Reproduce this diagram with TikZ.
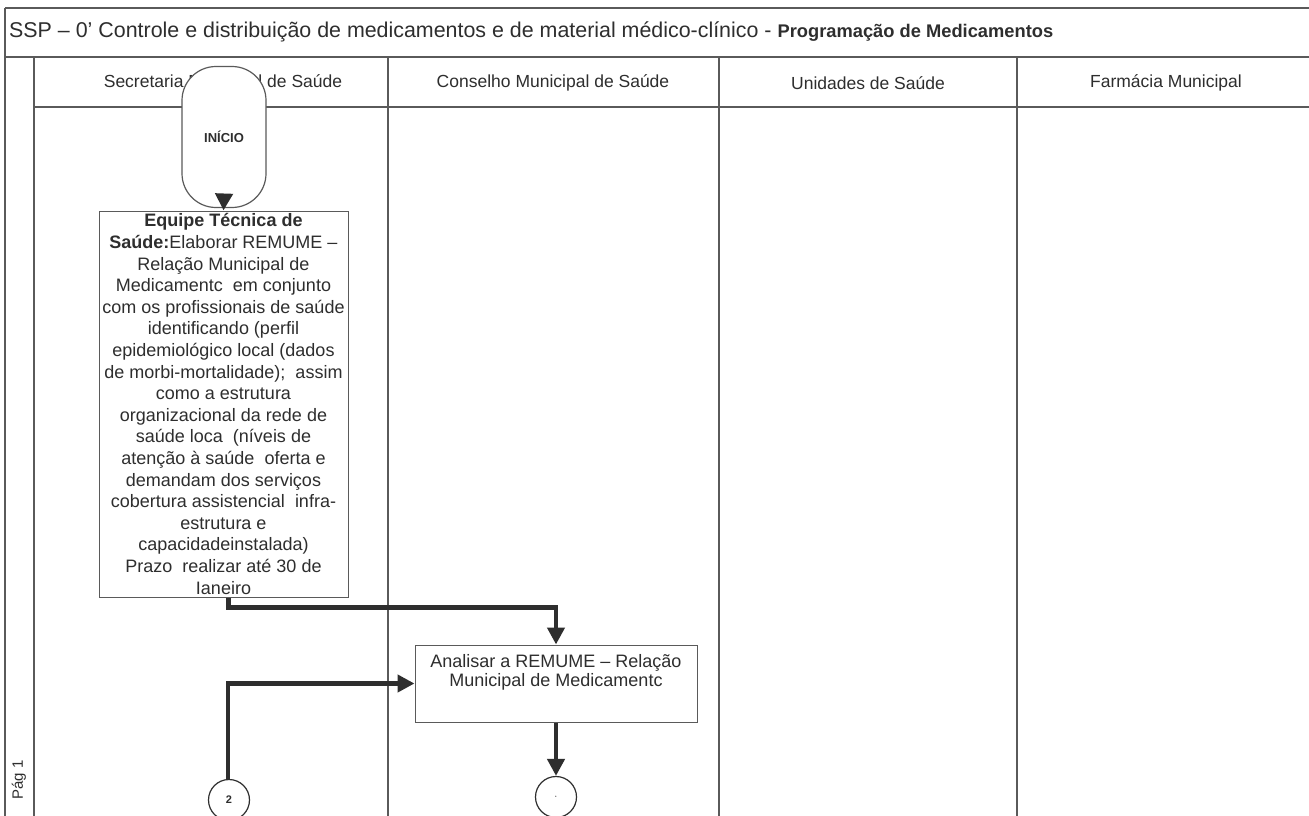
\documentclass[tikz,border=0pt]{standalone}
\usepackage{fontspec}
\setmainfont{Liberation Sans}
\usetikzlibrary{arrows.meta,calc}
\definecolor{ink}{HTML}{2E2E2E}
\definecolor{rule}{HTML}{5A5A5A}
\begin{document}
\begin{tikzpicture}[x=1pt,y=-1pt,
  frame/.style={draw=rule,line width=1.3pt},
  hdr/.style={font=\fontsize{17.5}{20}\selectfont,text=ink,inner sep=0},
  procbox/.style={draw=rule,line width=1pt,fill=white,text=ink,align=center,inner sep=0pt,font=\fontsize{18}{21.6}\selectfont},
  conn/.style={draw=ink,line width=4.5pt,-{Triangle[length=17pt,width=17pt]}},
  endcircle/.style={circle,draw=ink,line width=1.2pt,minimum size=41pt,inner sep=0,fill=white,text=ink,font=\fontsize{11}{13}\selectfont\bfseries}
]
\useasboundingbox (0,0) rectangle (1309,816);
\fill[white] (0,0) rectangle (1309,816);
% frame
\draw[frame,line width=2pt] (5,8) -- (5,816);
\draw[frame] (5,8) -- (1309,8);
\draw[frame] (5,57) -- (1309,57);
\draw[frame] (34,107) -- (1309,107);
\draw[frame,line width=1.8pt] (34,57) -- (34,816);
\draw[frame] (388,57) -- (388,816);
\draw[frame] (719,57) -- (719,816);
\draw[frame] (1017,57) -- (1017,816);
% title
\node[anchor=west,inner sep=0,text=ink] (title) at (9,32) {\fontsize{21.4}{24}\selectfont SSP – 0'\hspace{6pt}Controle e distribuição de medicamentos e de material médico-clínico - \fontsize{18.3}{20}\selectfont\bfseries Programação de Medicamentos};
% headers
\node[hdr] (hsec) at (223,83) {Secretaria Municipal de Saúde};
\node[hdr] (hcon) at (553,83) {Conselho Municipal de Saúde};
\node[hdr] (huni) at (868,83) {Unidades de Saúde};
\node[hdr] (hfar) at (1166,83) {Farmácia Municipal};
\node[rotate=90,font=\fontsize{15}{17}\selectfont,text=ink,inner sep=0] (pag) at (19,780) {Pág 1};
% start
\node[draw=rule,line width=1.2pt,fill=white,rounded corners=34pt,minimum width=84pt,minimum height=141pt,font=\fontsize{13}{15}\selectfont\bfseries,text=ink] (inicio) at (224,137) {INÍCIO};
% box 1
\node[procbox,minimum width=249pt,minimum height=386pt] (b1) at (223.5,404) {\textbf{Equipe Técnica de}\\
\textbf{Saúde:}Elaborar REMUME –\\
Relação Municipal de\\
Medicamentc\ \ em conjunto\\
com os profissionais de saúde\\
identificando (perfil\\
epidemiológico local (dados\\
de morbi-mortalidade);\ \ assim\\
como a estrutura\\
organizacional da rede de\\
saúde loca\ \ (níveis de\\
atenção à saúde\ \ oferta e\\
demandam dos serviços\\
cobertura assistencial\ \ infra-\\
estrutura e\\
capacidadeinstalada)\\
Prazo\ \ realizar até 30 de\\
Ianeiro};
% box 2
\node[draw=rule,line width=1pt,fill=white,minimum width=282pt,minimum height=77pt,inner sep=0] (b2) at (556,683.5) {};
\node[anchor=north,align=center,text=ink,inner sep=0,font=\fontsize{18}{18.5}\selectfont] (b2t) at ([yshift=-10pt]b2.north) {Analisar a REMUME – Relação\\Municipal de Medicamentc};
% circles
\node[endcircle] (c2) at (229,800) {2};
\node[endcircle] (c1) at (556,797) {$\cdot$};
% connectors
\draw[conn] ([yshift=12pt]inicio.south) -- (b1.north);
\draw[conn] ([xshift=5pt]b1.south) -- ++(0,10) -| (b2.north);
\draw[conn] ([xshift=-1pt]c2.north) |- (b2.west);
\draw[conn] (b2.south) -- (c1.north);
\end{tikzpicture}
\end{document}
